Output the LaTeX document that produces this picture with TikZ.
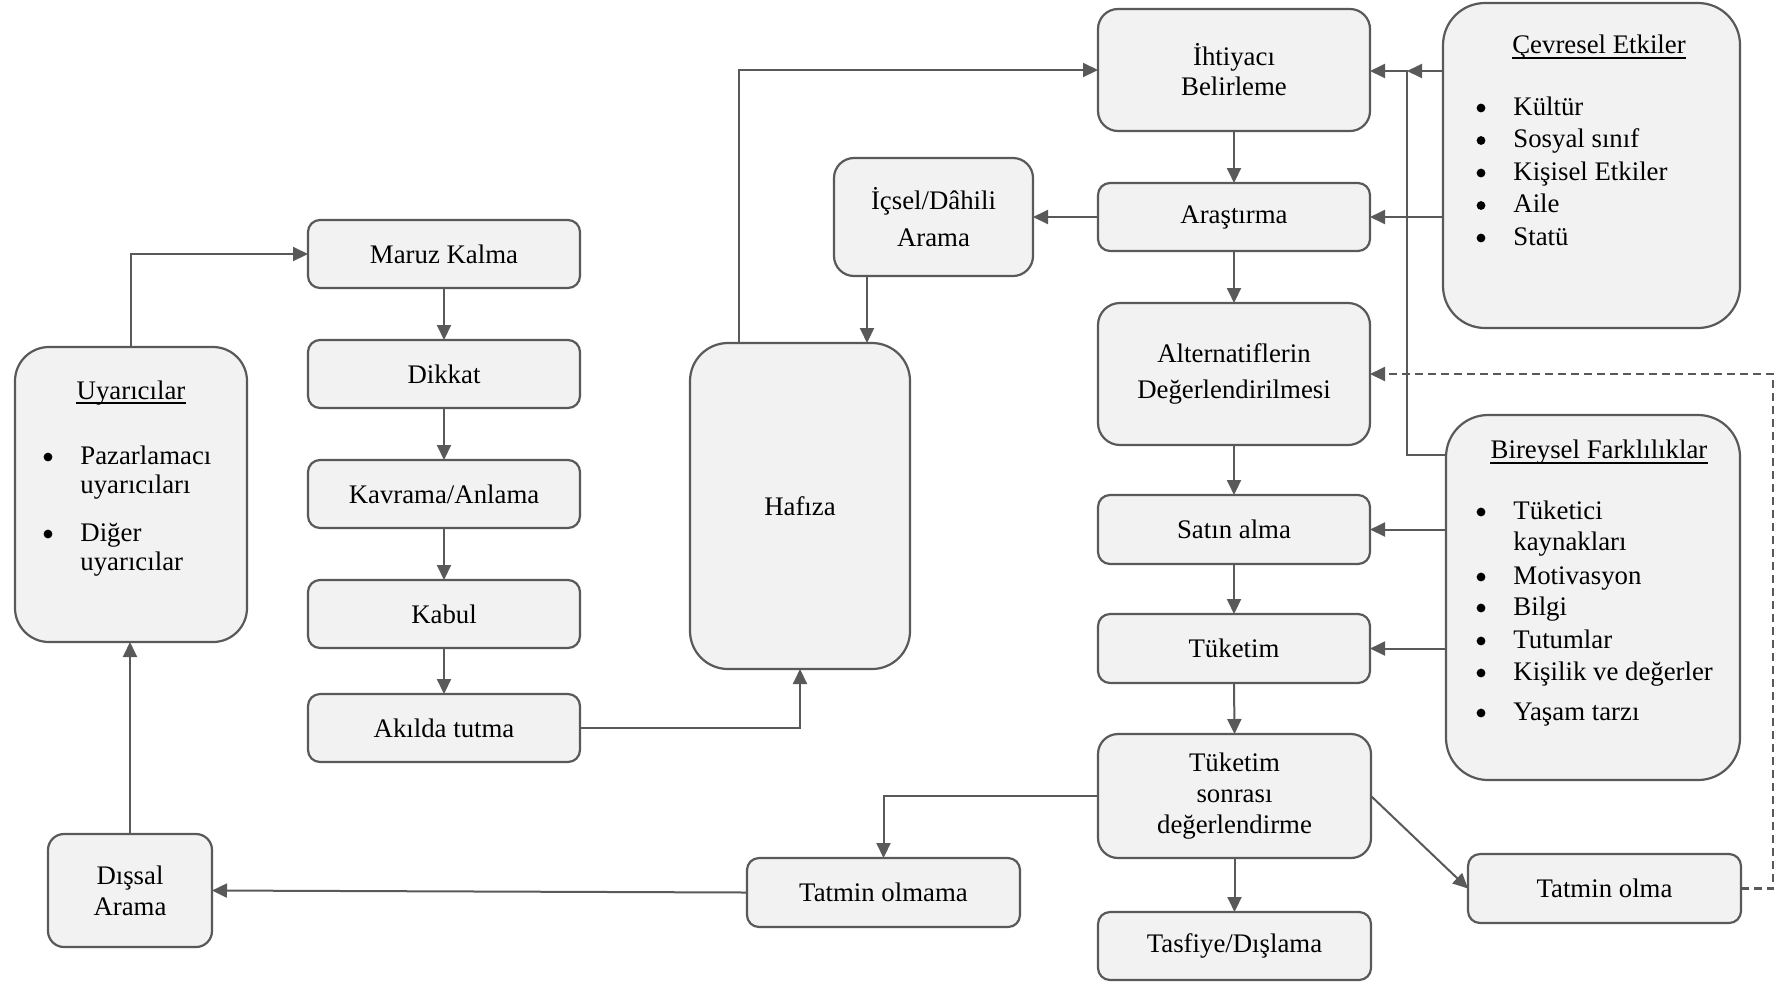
\documentclass[tikz,border=0pt]{standalone}
\usepackage{fontspec}
\setmainfont{Liberation Serif}
\usetikzlibrary{arrows.meta}
\definecolor{edgegray}{HTML}{595959}
\definecolor{boxfill}{HTML}{F2F2F2}
\begin{document}
\begin{tikzpicture}[x=0.5pt,y=-0.5pt,
  font=\fontsize{13.4pt}{15.5pt}\selectfont,
  lead/.style={font=\fontsize{13.4pt}{#1}\selectfont},
  box/.style={draw=edgegray, fill=boxfill, line width=1.1pt, rounded corners=6pt,
    inner sep=0pt, outer sep=0pt, align=center, text=black},
  bw/.style={minimum width=#1},
  bh/.style={minimum height=#1},
  arr/.style={draw=edgegray, line width=1pt, -{Triangle[length=7.5pt,width=7pt]}},
  dashline/.style={dash pattern=on 4pt off 2.5pt, line width=1.1pt},
  txt/.style={inner sep=0pt, anchor=base west},
  dot/.style={circle, fill=black, inner sep=0pt, minimum size=4.4pt, yshift=3.5pt},
  ttl/.style={inner sep=0pt, anchor=base},
  ulrule/.style={draw=black, line width=0.9pt}
]
\useasboundingbox (0,0) rectangle (1775,981);

% ---------- left column: stimuli and information processing ----------
\node[box, bw=116pt, bh=147.5pt, rounded corners=17pt] (uyaricilar) at (131,494.5) {};
\node[ttl] (uyT) at (131,399) {Uyarıcılar};
\draw[ulrule] ([yshift=-2pt]uyT.base west) -- ([yshift=-2pt]uyT.base east);
\node[dot] (uyB1) at (48,464) {};
\node[txt] (uy1) at (80,464) {Pazarlamacı};
\node[txt] (uy1b) at (80,493) {uyarıcıları};
\node[dot] (uyB2) at (48,541) {};
\node[txt] (uy2) at (80,541) {Diğer};
\node[txt] (uy2b) at (80,570) {uyarıcılar};

\node[box, bw=82pt, bh=56.5pt, rounded corners=8pt, lead=15.5pt] (dissal) at (130,890.5) {Dışsal\\Arama};

\node[box, bw=136pt, bh=34pt] (maruz) at (444,254) {Maruz Kalma};
\node[box, bw=136pt, bh=34pt] (dikkat) at (444,374) {Dikkat};
\node[box, bw=136pt, bh=34pt] (kavrama) at (444,494) {Kavrama/Anlama};
\node[box, bw=136pt, bh=34pt] (kabul) at (444,614) {Kabul};
\node[box, bw=136pt, bh=34pt] (akilda) at (444,728) {Akılda tutma};

\node[box, bw=110pt, bh=163pt, rounded corners=19pt] (hafiza) at (800,506) {Hafıza};
\node[box, bw=99.5pt, bh=59pt, rounded corners=10pt, lead=18.5pt] (icsel) at (933.5,217) {İçsel/Dâhili\\Arama};

\node[box, bw=136.5pt, bh=34.5pt] (tatminolmama) at (883.5,892.5) {Tatmin olmama};

% ---------- middle column: decision process ----------
\node[box, bw=136pt, bh=61pt, rounded corners=10pt, lead=15pt] (ihtiyac) at (1234,70) {İhtiyacı\\Belirleme};
\node[box, bw=136pt, bh=34pt] (arastirma) at (1234,217) {Araştırma};
\node[box, bw=136pt, bh=71pt, rounded corners=11pt, lead=18pt] (alternatif) at (1234,374) {Alternatiflerin\\Değerlendirilmesi};
\node[box, bw=136pt, bh=34.5pt] (satin) at (1234,529.5) {Satın alma};
\node[box, bw=136pt, bh=34.5pt] (tuketim) at (1234,648.5) {Tüketim};
\node[box, bw=136.5pt, bh=62pt, rounded corners=10pt, lead=15.5pt] (tsd) at (1234.5,796) {Tüketim\\sonrası\\değerlendirme};
\node[box, bw=136.5pt, bh=34pt] (tasfiye) at (1234.5,946) {Tasfiye/Dışlama};
\node[box, bw=136.5pt, bh=34.5pt] (tatminolma) at (1604.5,888.5) {Tatmin olma};

% ---------- right column: influences ----------
\node[box, bw=148.5pt, bh=162.5pt, rounded corners=21pt] (cevresel) at (1591.5,165.5) {};
\node[ttl] (cevT) at (1599,53) {Çevresel Etkiler};
\draw[ulrule] ([yshift=-2.5pt]cevT.base west) -- ([yshift=-2.5pt]cevT.base east);
\foreach \y/\t [count=\i] in {115/Kültür, 147.5/Sosyal sınıf, 180/Kişisel Etkiler, 212.5/Aile, 245/Statü} {
  \node[dot] (cevB\i) at (1481,\y) {};
  \node[txt] (cev\i) at (1513,\y) {\t};
}

\node[box, bw=147pt, bh=182.5pt, rounded corners=21pt] (bireysel) at (1593,597.5) {};
\node[ttl] (birT) at (1599,458) {Bireysel Farklılıklar};
\draw[ulrule] ([yshift=-2.5pt]birT.base west) -- ([yshift=-2.5pt]birT.base east);
\node[dot] (birB1) at (1481,519) {};
\node[txt] (bir1) at (1513,519) {Tüketici};
\node[txt] (bir1b) at (1513,550) {kaynakları};
\foreach \y/\t [count=\i from 2] in {584/Motivasyon, 615/Bilgi, 648/Tutumlar, 680/Kişilik ve değerler, 720/Yaşam tarzı} {
  \node[dot] (birB\i) at (1481,\y) {};
  \node[txt] (bir\i) at (1513,\y) {\t};
}

% ---------- connectors ----------
\draw[arr] (uyaricilar.north) |- (maruz.west);
\foreach \a/\b in {maruz/dikkat, dikkat/kavrama, kavrama/kabul, kabul/akilda}
  \draw[arr] (\a.south) -- (\b.north);
\draw[arr] (akilda.east) -| (hafiza.south);
\path ([xshift=-30.5pt]hafiza.north) coordinate (hafTop);
\draw[arr] (hafTop) |- (ihtiyac.west);

\draw[arr] (arastirma.west) -- (icsel.east);
\path ([xshift=-33.25pt]icsel.south) coordinate (icBot);
\draw[arr] (icBot) -- (icBot |- hafiza.north);

\foreach \a/\b in {ihtiyac/arastirma, arastirma/alternatif, alternatif/satin,
                   satin/tuketim, tuketim/tsd, tsd/tasfiye}
  \draw[arr] (\a.south) -- (\b.north);

\coordinate (jtop) at (1407,71);
\coordinate (jbot) at (1407,455);
\draw[arr] (cevresel.west |- jtop) -- (jtop);
\draw[arr] (bireysel.west |- jbot) -- (jbot) -- (jtop) -- (ihtiyac.east |- jtop);
\draw[arr] (cevresel.west |- arastirma.east) -- (arastirma.east);
\draw[arr] (bireysel.west |- satin.east) -- (satin.east);
\draw[arr] (bireysel.west |- tuketim.east) -- (tuketim.east);

\draw[arr] (tsd.west) -| (tatminolmama.north);
\draw[arr] (tsd.east) -- (tatminolma.west);
\draw[arr] (tatminolmama.west) -- (dissal.east);
\draw[arr] (dissal.north) -- (dissal.north |- uyaricilar.south);

\coordinate (dcorner) at (1773,374);
\draw[arr, dashline] (tatminolma.east) -| (dcorner) -- (alternatif.east);
\end{tikzpicture}
\end{document}
